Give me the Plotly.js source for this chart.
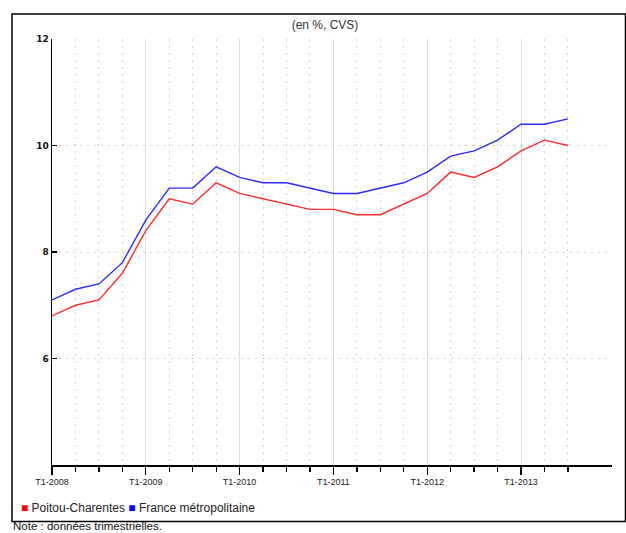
<!DOCTYPE html>
<html>
<head>
<meta charset="utf-8">
<script src="https://cdn.plot.ly/plotly-3.0.1.min.js"></script>
<style>html,body{margin:0;padding:0;background:#fff;}#chart{width:626px;height:533px;}</style>
</head>
<body>
<div id="chart"></div>
<script>
// Quarterly periods T1-2008 ... T3-2013 (index = quarter number from T1-2008)
const quarters = ["T1-2008","T2-2008","T3-2008","T4-2008","T1-2009","T2-2009","T3-2009","T4-2009",
  "T1-2010","T2-2010","T3-2010","T4-2010","T1-2011","T2-2011","T3-2011","T4-2011",
  "T1-2012","T2-2012","T3-2012","T4-2012","T1-2013","T2-2013","T3-2013"];
const poitouCharentes = [6.8,7.0,7.1,7.6,8.4,9.0,8.9,9.3,9.1,9.0,8.9,8.8,8.8,8.7,8.7,8.9,9.1,9.5,9.4,9.6,9.9,10.1,10.0];
const franceMetro = [7.1,7.3,7.4,7.8,8.6,9.2,9.2,9.6,9.4,9.3,9.3,9.2,9.1,9.1,9.2,9.3,9.5,9.8,9.9,10.1,10.4,10.4,10.5];
const yearTickLabels = ["T1-2008","T1-2009","T1-2010","T1-2011","T1-2012","T1-2013"];
const yTickVals = [6,8,10,12];
const seriesNames = ["Poitou-Charentes","France métropolitaine"];

const xIdx = quarters.map((q,i)=>i);
const yearTickVals = yearTickLabels.map(l => quarters.indexOf(l));

const traces = [
  {x:xIdx, y:poitouCharentes, name:seriesNames[0], type:'scatter', mode:'lines',
   line:{color:'#ff2a2a', width:1.4}, hoverinfo:'x+y'},
  {x:xIdx, y:franceMetro, name:seriesNames[1], type:'scatter', mode:'lines',
   line:{color:'#2a2aff', width:1.4}, hoverinfo:'x+y'}
];

const font = 'Liberation Sans, Arial, sans-serif';
const dotDash = '2px,5px';
const layout = {
  width:626, height:533,
  margin:{l:52, r:14, t:39, b:68},
  paper_bgcolor:'#fff', plot_bgcolor:'#fff',
  showlegend:false,
  font:{family:font, size:10, color:'#222'},
  title:{text:'(en %, CVS)', x:325/626, xanchor:'center', xref:'container',
         y:1-25/533, yanchor:'middle', yref:'container',
         font:{family:font, size:12, color:'#333'}},
  xaxis:{
    range:[0, 23.88], showline:true, linecolor:'#000', linewidth:1.5,
    tickmode:'array', tickvals:yearTickVals, ticktext:yearTickLabels,
    ticks:'outside', ticklen:8, tickcolor:'#000', tickwidth:1.3,
    tickfont:{family:font, size:9, color:'#222'},
    showgrid:true, gridcolor:'#d9d9d9', gridwidth:1,
    zeroline:false,
    minor:{tickmode:'array', tickvals:xIdx, ticks:'outside', ticklen:5, tickcolor:'#000', tickwidth:1.3,
           showgrid:true, gridcolor:'#d0d0d0', griddash:dotDash, gridwidth:1}
  },
  yaxis:{
    range:[4,12], showline:true, linecolor:'#000', linewidth:1.5,
    tickmode:'array', tickvals:yTickVals,
    ticks:'inside', ticklen:5, tickcolor:'#000', tickwidth:1.3,
    tickfont:{family:'DejaVu Sans, sans-serif', size:9, color:'#111', weight:'bold'},
    showgrid:true, gridcolor:'#d0d0d0', griddash:dotDash, gridwidth:1,
    zeroline:false
  },
  shapes:[
    {type:'rect', xref:'paper', yref:'paper',
     x0:(12-52)/560, x1:(625.5-52)/560, y0:(465-521.5)/426, y1:(465-14)/426,
     line:{color:'#000', width:1.5}, fillcolor:'rgba(0,0,0,0)', layer:'below'}
  ],
  annotations:[
    {xref:'paper', yref:'paper', x:(19-52)/560, y:(465-508)/426, xanchor:'left', yanchor:'middle',
     showarrow:false, align:'left',
     text:'<span style="color:#ff0000">■</span> '+seriesNames[0]+' <span style="color:#0000ff">■</span> '+seriesNames[1],
     font:{family:font, size:12, color:'#222'}},
    {xref:'paper', yref:'paper', x:(11-52)/560, y:(465-526)/426, xanchor:'left', yanchor:'middle',
     showarrow:false, align:'left', text:'Note : données trimestrielles.',
     font:{family:font, size:11.5, color:'#111'}}
  ]
};

Plotly.newPlot('chart', traces, layout, {displayModeBar:false, staticPlot:true});
</script>
</body>
</html>
